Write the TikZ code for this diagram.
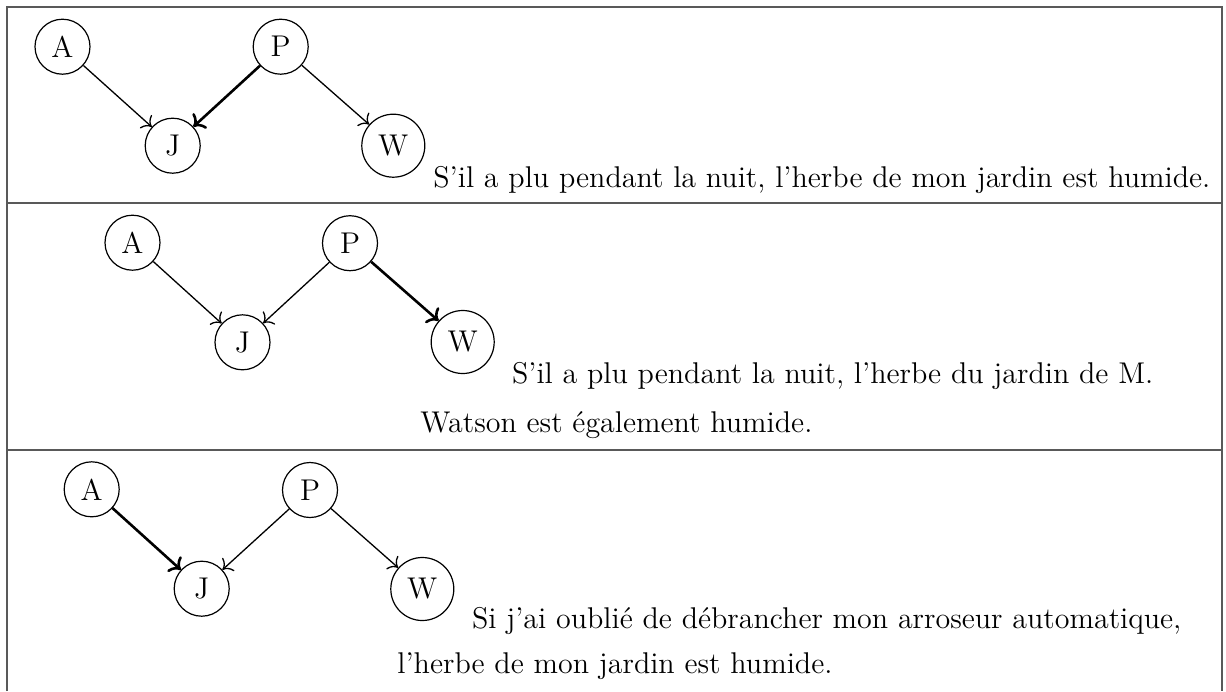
\documentclass[tikz,border=0pt]{standalone}
\usepackage{fontspec}
\setmainfont{Latin Modern Roman}[OpticalSize=12]
\usetikzlibrary{arrows.meta}
\newcommand\mysize{\fontsize{15}{17}\selectfont}
\begin{document}
\begin{tikzpicture}[x=0.5pt,y=-0.5pt,
  var/.style={circle,draw,line width=0.6pt,minimum size=27.5pt,inner sep=0pt,font=\mysize},
  varw/.style={var,minimum size=31.5pt},
  edge/.style={-{To[scale=1.4]},line width=0.65pt},
  strong/.style={-{To[scale=1.1]},line width=1.3pt},
  txt/.style={anchor=base west,inner sep=0pt,font=\mysize},
  frame/.style={line width=0.9pt,black!65}]
\useasboundingbox (0,0) rectangle (1226,691);
% table frame
\draw[frame] (7,691) -- (7,7) -- (1222,7) -- (1222,691);
\draw[frame] (7,203) -- (1222,203);
\draw[frame] (7,450) -- (1222,450);
% row 1
\node[var]  (a1) at (62.5,46.7) {A};
\node[var]  (p1) at (280.7,46.7) {P};
\node[var]  (j1) at (172.7,145.7) {J};
\node[varw] (w1) at (393.3,145.7) {W};
\draw[edge]   (a1) -- (j1);
\draw[strong] (p1) -- (j1);
\draw[edge]   (p1) -- (w1);
\node[txt] (t1) at (433,187) {S’il a plu pendant la nuit, l’herbe de mon jardin est humide.};
% row 2
\node[var]  (a2) at (132.5,242.7) {A};
\node[var]  (p2) at (350,243.2) {P};
\node[var]  (j2) at (242.5,342.3) {J};
\node[varw] (w2) at (462.7,342) {W};
\draw[edge]   (a2) -- (j2);
\draw[edge]   (p2) -- (j2);
\draw[strong] (p2) -- (w2);
\node[txt] (t2a) at (511.7,383) {S’il a plu pendant la nuit, l’herbe du jardin de M.};
\node[txt] (t2b) at (420,432) {Watson est également humide.};
% row 3
\node[var]  (a3) at (91.7,489.3) {A};
\node[var]  (p3) at (310,490) {P};
\node[var]  (j3) at (201.7,588.7) {J};
\node[varw] (w3) at (422.3,589) {W};
\draw[strong] (a3) -- (j3);
\draw[edge]   (p3) -- (j3);
\draw[edge]   (p3) -- (w3);
\node[txt] (t3a) at (471.7,628) {Si j’ai oublié de débrancher mon arroseur automatique,};
\node[txt] (t3b) at (397,673) {l’herbe de mon jardin est humide.};
\end{tikzpicture}
\end{document}
